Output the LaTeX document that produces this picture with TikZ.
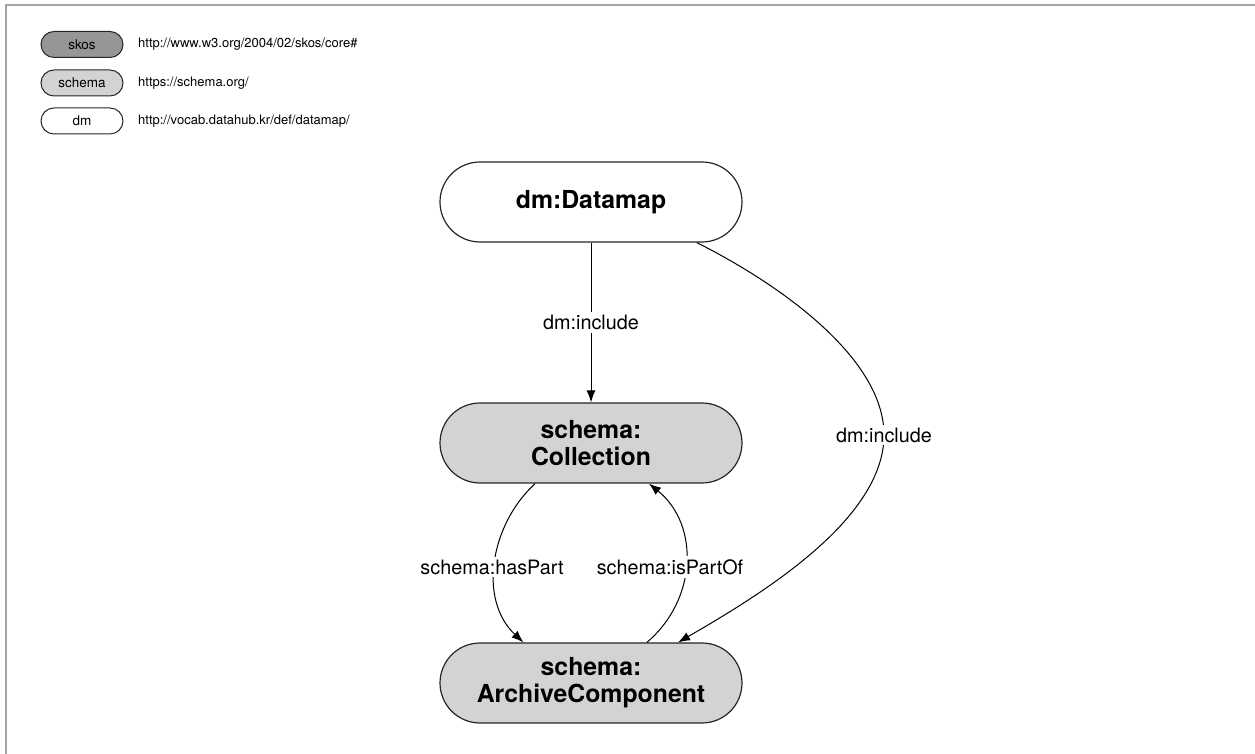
\documentclass[tikz,border=0pt]{standalone}
\usepackage{fontspec}
\setmainfont{TeX Gyre Heros}
\usetikzlibrary{arrows.meta,calc}
\definecolor{skosgray}{RGB}{150,150,150}
\definecolor{schemagray}{RGB}{211,211,211}
\definecolor{framegray}{RGB}{165,165,165}
\tikzset{
  legbox/.style={draw=black!85, line width=1pt, rounded corners=13pt, minimum width=82pt, minimum height=26pt, inner sep=0pt, font=\fontsize{13.5}{15}\selectfont},
  legtext/.style={anchor=west, inner sep=0pt, font=\fontsize{13}{15}\selectfont},
  bignode/.style={draw=black!85, line width=1.2pt, rounded corners=40pt, minimum width=302pt, minimum height=80pt, inner sep=0pt, align=center, font=\fontsize{24.8}{27}\selectfont\bfseries},
  edge/.style={line width=1pt, -{Latex[length=12pt,width=9pt]}},
  plain/.style={line width=1pt},
  elabel/.style={fill=white, inner sep=3pt, font=\fontsize{19.8}{22}\selectfont},
}
\begin{document}
\begin{tikzpicture}[x=1pt,y=1pt]
\useasboundingbox (0,0) rectangle (1255,754);
\draw[framegray, line width=1.5pt] (6,0) -- (6,749) -- (1255,749);
% legend
\node[legbox, fill=skosgray] (lskos) at (82,709.5) {skos};
\node[legbox, fill=schemagray] (lschema) at (82,671) {schema};
\node[legbox, fill=white] (ldm) at (82,633) {dm};
\node[legtext] (uskos) at (138,709.5) {http://www.w3.org/2004/02/skos/core\#};
\node[legtext] (uschema) at (138,671) {https://schema.org/};
\node[legtext] (udm) at (138,633) {http://vocab.datahub.kr/def/datamap/};
% main nodes
\node[bignode, fill=white] (dmap) at (591,552) {dm:Datamap};
\node[bignode, fill=schemagray] (coll) at (591,311) {schema:\\Collection};
\node[bignode, fill=schemagray] (arch) at (591,71) {schema:\\ArchiveComponent};
% straight include
\draw[edge] (dmap.south) -- node[elabel] {dm:include} (coll.north);
% curved include
\coordinate (incmid) at (884,319);
\draw[plain] (dmap.339) .. controls (785,467) and (884,394) .. (incmid);
\draw[edge] (incmid) .. controls (884,234) and (760,159) .. (arch.25.5);
\node[elabel] (inclabel) at (incmid) {dm:include};
% hasPart
\draw[edge] (coll.216.5) .. controls (490,229) and (478,154) .. (arch.149.5);
\node[elabel] (haslabel) at (492,187) {schema:hasPart};
% isPartOf
\draw[edge] (arch.36) .. controls (697,154) and (700,229) .. (coll.325);
\node[elabel] (isplabel) at (670,187) {schema:isPartOf};
\end{tikzpicture}
\end{document}
